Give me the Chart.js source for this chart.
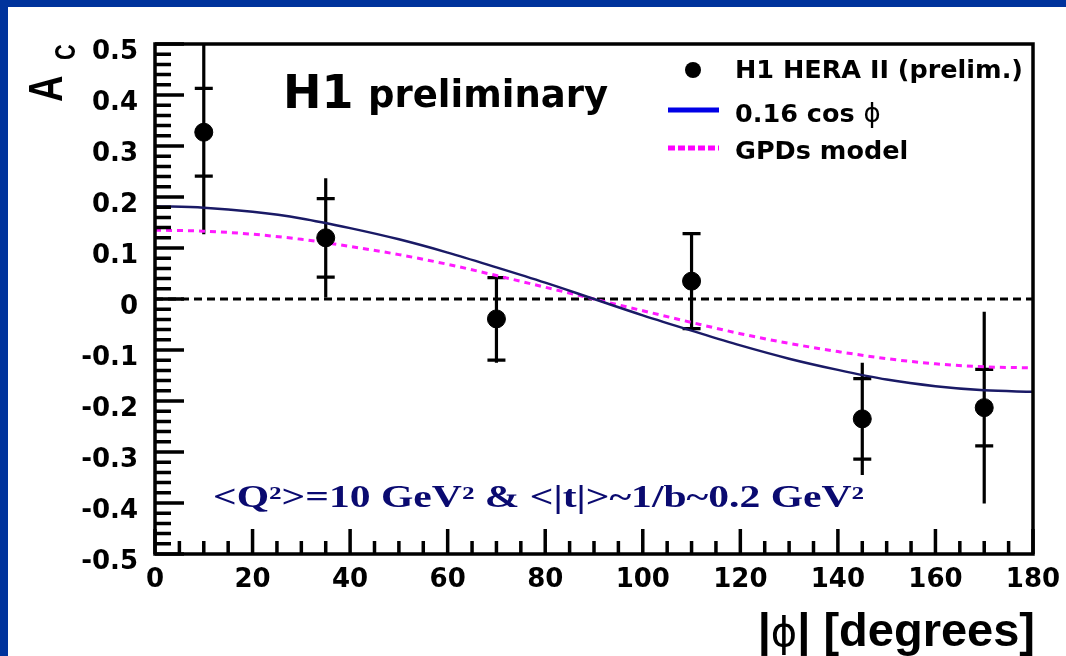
<!DOCTYPE html>
<html>
<head>
<meta charset="utf-8">
<script src="https://cdn.jsdelivr.net/npm/chart.js@4.4.1/dist/chart.umd.min.js"></script>
<style>
  html, body { margin: 0; padding: 0; background: #fff; }
  #wrap { width: 1066px; height: 656px; }
</style>
</head>
<body>
<div id="wrap"><canvas id="acChart" width="1066" height="656"></canvas></div>
<script>
// H1 beam charge asymmetry vs |phi|
const phi = [10, 35, 70, 110, 145, 170];
const asym = [0.327, 0.12, -0.039, 0.035, -0.235, -0.213];
const statErr = [0.086, 0.077, 0.081, 0.093, 0.079, 0.075];
const totErr = [0.20, 0.117, 0.086, 0.096, 0.11, 0.188];

// curves every 10 degrees
const curvePhi = [0, 10, 20, 30, 40, 50, 60, 70, 80, 90, 100, 110, 120, 130, 140, 150, 160, 170, 180];
const cosFit = [0.182, 0.179, 0.171, 0.158, 0.139, 0.117, 0.091, 0.062, 0.032, 0.0,
                -0.032, -0.062, -0.091, -0.117, -0.139, -0.158, -0.171, -0.179, -0.182];
const gpdModel = [0.135, 0.133, 0.127, 0.117, 0.103, 0.087, 0.068, 0.046, 0.023, 0.0,
                  -0.023, -0.046, -0.068, -0.087, -0.103, -0.117, -0.127, -0.133, -0.135];

const xTicks = [0, 20, 40, 60, 80, 100, 120, 140, 160, 180];
const yTicks = [-0.5, -0.4, -0.3, -0.2, -0.1, 0, 0.1, 0.2, 0.3, 0.4, 0.5];
const yTickLabels = ['-0.5', '-0.4', '-0.3', '-0.2', '-0.1', '0', '0.1', '0.2', '0.3', '0.4', '0.5'];

const slideBlue = '#00339c';
const tickFont = 'bold 26px "DejaVu Sans"';

const h1Decor = {
  id: 'h1Decor',
  beforeDraw(chart) {
    const ctx = chart.ctx;
    ctx.save();
    ctx.fillStyle = '#fff';
    ctx.fillRect(0, 0, chart.width, chart.height);
    ctx.fillStyle = slideBlue;
    ctx.fillRect(0, 0, chart.width, 7);
    ctx.fillRect(0, 0, 8, chart.height);
    ctx.restore();
  },
  beforeDatasetsDraw(chart) {
    // vertical line = total error, small bars = stat error
    const {ctx, chartArea: a, scales: {x, y}} = chart;
    ctx.save();
    ctx.beginPath();
    ctx.rect(a.left, a.top, a.right - a.left, a.bottom - a.top);
    ctx.clip();
    ctx.strokeStyle = '#000';
    ctx.lineWidth = 3.2;
    phi.forEach((p, i) => {
      const px = x.getPixelForValue(p);
      ctx.beginPath();
      ctx.moveTo(px, y.getPixelForValue(asym[i] + totErr[i]));
      ctx.lineTo(px, y.getPixelForValue(asym[i] - totErr[i]));
      [1, -1].forEach(s => {
        const py = y.getPixelForValue(asym[i] + s * statErr[i]);
        ctx.moveTo(px - 9, py);
        ctx.lineTo(px + 9, py);
      });
      ctx.stroke();
    });
    ctx.restore();
  },
  afterDraw(chart) {
    const {ctx, chartArea: a, scales: {x, y}} = chart;
    ctx.save();

    // frame
    ctx.strokeStyle = '#000';
    ctx.lineWidth = 3.5;
    ctx.strokeRect(a.left, a.top, a.right - a.left, a.bottom - a.top);

    // ticks inside the frame, ROOT style
    ctx.lineWidth = 3.5;
    ctx.beginPath();
    for (let k = -25; k <= 25; k++) {
      const py = y.getPixelForValue(k / 50);
      const len = (k % 5 === 0) ? 29 : 16;
      ctx.moveTo(a.left, py);
      ctx.lineTo(a.left + len, py);
    }
    for (let k = 0; k <= 36; k++) {
      const px = x.getPixelForValue(k * 5);
      const len = (k % 4 === 0) ? 25 : 13;
      ctx.moveTo(px, a.bottom);
      ctx.lineTo(px, a.bottom - len);
    }
    ctx.stroke();

    // tick labels
    ctx.fillStyle = '#000';
    ctx.font = tickFont;
    ctx.textAlign = 'right';
    yTicks.forEach((v, i) => {
      ctx.fillText(yTickLabels[i], a.left - 17, y.getPixelForValue(v) + 15);
    });
    ctx.textAlign = 'center';
    xTicks.forEach(v => {
      ctx.fillText(String(v), x.getPixelForValue(v), a.bottom + 33);
    });

    // y title A_C
    ctx.save();
    ctx.translate(62, 102);
    ctx.rotate(-Math.PI / 2);
    ctx.scale(0.75, 1);
    ctx.textAlign = 'left';
    ctx.font = 'bold 49px "Liberation Sans"';
    ctx.fillText('A', 0, 0);
    ctx.font = 'bold 29px "Liberation Sans"';
    ctx.fillText('C', 56, 13);
    ctx.restore();

    // x title |phi| [degrees]
    ctx.textAlign = 'left';
    const bold47 = 'bold 47px "Liberation Sans"';
    const phiFont = '40px "DejaVu Sans"';
    ctx.font = bold47;
    const wBar = ctx.measureText('|').width;
    const wRest = ctx.measureText('| [degrees]').width;
    ctx.font = phiFont;
    const wPhi = ctx.measureText('\u03d5').width;
    let tx = 1035 - wRest - wPhi - wBar;
    ctx.font = bold47;
    ctx.fillText('|', tx, 646);
    ctx.font = phiFont;
    ctx.fillText('\u03d5', tx + wBar, 646);
    ctx.font = bold47;
    ctx.fillText('| [degrees]', tx + wBar + wPhi, 646);

    // H1 preliminary
    ctx.font = 'bold 46px "DejaVu Sans"';
    ctx.fillText('H1', 283, 108);
    ctx.font = 'bold 37px "DejaVu Sans"';
    ctx.fillText('preliminary', 368, 107);

    // legend
    ctx.beginPath();
    ctx.arc(693, 70, 8, 0, Math.PI * 2);
    ctx.fill();
    ctx.lineWidth = 5;
    ctx.strokeStyle = '#0000e6';
    ctx.beginPath();
    ctx.moveTo(668, 110);
    ctx.lineTo(719, 110);
    ctx.stroke();
    ctx.strokeStyle = '#ff00ff';
    ctx.setLineDash([7, 3]);
    ctx.beginPath();
    ctx.moveTo(668, 148);
    ctx.lineTo(719, 148);
    ctx.stroke();
    ctx.setLineDash([]);
    ctx.font = 'bold 25.5px "DejaVu Sans"';
    ctx.fillText('H1 HERA II (prelim.)', 735, 78);
    ctx.fillText('0.16 cos ', 735, 122);
    const wCos = ctx.measureText('0.16 cos ').width;
    ctx.fillText('GPDs model', 735, 159);
    ctx.font = '26px "DejaVu Sans"';
    ctx.fillText('\u03d5', 735 + wCos, 122);

    // kinematic range note, stretched like on the slide
    const note = '<Q\u00b2>=10 GeV\u00b2 & <|t|>~1/b~0.2 GeV\u00b2';
    ctx.font = 'bold 31px "Liberation Serif"';
    ctx.fillStyle = '#0a0a70';
    const sx = 651 / ctx.measureText(note).width;
    ctx.save();
    ctx.translate(213, 507);
    ctx.scale(sx, 1);
    ctx.fillText(note, 0, 0);
    ctx.restore();

    ctx.restore();
  }
};

const ctx = document.getElementById('acChart').getContext('2d');
const chart = new Chart(ctx, {
  type: 'scatter',
  data: {
    datasets: [
      {
        label: 'H1 HERA II (prelim.)',
        data: phi.map((p, i) => ({x: p, y: asym[i]})),
        backgroundColor: '#000',
        borderColor: '#000',
        pointRadius: 9,
        pointHoverRadius: 9
      },
      {
        label: '0.16 cos phi',
        type: 'line',
        data: curvePhi.map((p, i) => ({x: p, y: cosFit[i]})),
        borderColor: '#1a1a66',
        borderWidth: 2.5,
        pointRadius: 0,
        cubicInterpolationMode: 'monotone'
      },
      {
        label: 'GPDs model',
        type: 'line',
        data: curvePhi.map((p, i) => ({x: p, y: gpdModel[i]})),
        borderColor: '#ff1aff',
        borderWidth: 3,
        borderDash: [6, 5],
        pointRadius: 0,
        cubicInterpolationMode: 'monotone'
      },
      {
        label: 'zero',
        type: 'line',
        data: [{x: 0, y: 0}, {x: 180, y: 0}],
        borderColor: '#000',
        borderWidth: 3,
        borderDash: [8, 5],
        pointRadius: 0
      }
    ]
  },
  options: {
    responsive: false,
    animation: false,
    devicePixelRatio: 1,
    layout: {padding: {left: 155, right: 33, top: 44, bottom: 102}},
    plugins: {legend: {display: false}, tooltip: {enabled: false}},
    scales: {
      x: {
        type: 'linear', min: 0, max: 180,
        grid: {display: false, drawTicks: false},
        border: {display: false},
        ticks: {display: false}
      },
      y: {
        type: 'linear', min: -0.5, max: 0.5,
        grid: {display: false, drawTicks: false},
        border: {display: false},
        ticks: {display: false}
      }
    }
  },
  plugins: [h1Decor]
});
</script>
</body>
</html>
